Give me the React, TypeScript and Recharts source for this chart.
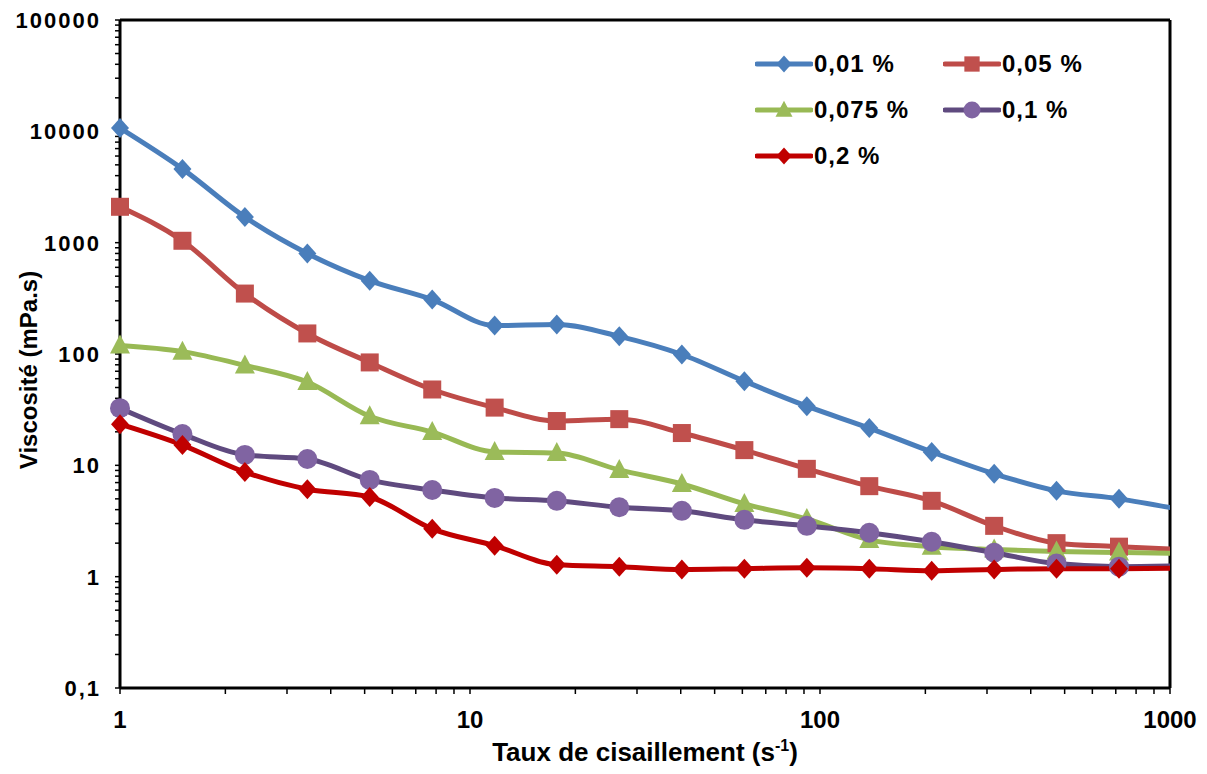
import {
  LineChart,
  Line,
  XAxis,
  YAxis,
  Legend,
  ReferenceLine,
} from "recharts";

// shear rate (s-1), log spaced; last point lies past 1000 and gets clipped
const shearRates = [
  1, 1.508, 2.274, 3.43, 5.17, 7.8, 11.76, 17.7, 26.7, 40.3, 60.8, 91.7, 138.3,
  208.5, 314.5, 474, 715, 1079,
];

const visc001 = [
  10700, 4600, 1700, 800, 456, 308, 180, 184, 144, 99, 57, 34, 21.6, 13.2, 8.4,
  5.9, 5.0, 4.0,
];
const visc005 = [
  2100, 1040, 349, 153, 84, 48, 33, 25, 26, 19.5, 13.7, 9.3, 6.5, 4.8, 2.86,
  2.0, 1.86, 1.75,
];
const visc0075 = [
  119, 105, 79, 56, 27.6, 19.9, 13.2, 12.9, 9.1, 6.8, 4.5, 3.3, 2.14, 1.86,
  1.75, 1.68, 1.65, 1.62,
];
const visc01 = [
  32.6, 19.1, 12.4, 11.4, 7.4, 6.0, 5.1, 4.8, 4.2, 3.9, 3.24, 2.86, 2.48, 2.06,
  1.64, 1.31, 1.23, 1.25,
];
const visc02 = [
  23.4, 15.2, 8.7, 6.1, 5.2, 2.69, 1.9, 1.28, 1.23, 1.16, 1.18, 1.2, 1.18,
  1.13, 1.16, 1.18, 1.18, 1.19,
];

const xTicks = [1, 10, 100, 1000];
const yTicks = [0.1, 1, 10, 100, 1000, 10000, 100000];

const series = [
  { key: "s1", name: "0,01 %", values: visc001, line: "#4A7EBB", fill: "#4A7EBB", shape: "diamond" },
  { key: "s2", name: "0,05 %", values: visc005, line: "#BE4B48", fill: "#C0504D", shape: "square" },
  { key: "s3", name: "0,075 %", values: visc0075, line: "#98B954", fill: "#9BBB59", shape: "triangle" },
  { key: "s4", name: "0,1 %", values: visc01, line: "#5F4A7F", fill: "#8064A2", shape: "circle" },
  { key: "s5", name: "0,2 %", values: visc02, line: "#C00000", fill: "#C00000", shape: "diamond" },
];

const rows = shearRates.map((x, i) => {
  const r: any = { x };
  series.forEach((s) => (r[s.key] = s.values[i]));
  return r;
});
const dotRows = rows.filter((r) => r.x <= 1000);

const minor = (ticks: number[]) =>
  ticks.slice(0, -1).flatMap((t) => [2, 3, 4, 5, 6, 7, 8, 9].map((m) => +(t * m).toPrecision(3)));
const xAllTicks = [...xTicks, ...minor(xTicks)].sort((a, b) => a - b);
const yAllTicks = [...yTicks, ...minor(yTicks)].sort((a, b) => a - b);

const FONT = "'Liberation Sans', Arial, sans-serif";

function Marker({ cx, cy, shape, fill, size = 1 }: any) {
  if (cx == null || cy == null) return null;
  const s = size;
  if (shape === "diamond")
    return <path d={`M${cx},${cy - 10 * s}L${cx + 9 * s},${cy}L${cx},${cy + 10 * s}L${cx - 9 * s},${cy}Z`} fill={fill} />;
  if (shape === "square")
    return <rect x={cx - 9 * s} y={cy - 9 * s} width={18 * s} height={18 * s} fill={fill} />;
  if (shape === "triangle")
    return <path d={`M${cx},${cy - 11 * s}L${cx + 10 * s},${cy + 8 * s}L${cx - 10 * s},${cy + 8 * s}Z`} fill={fill} />;
  return <circle cx={cx} cy={cy} r={10 * s} fill={fill} />;
}

function LegendBox() {
  return (
    <div
      style={{
        display: "grid",
        gridTemplateColumns: "188px 170px",
        gridAutoRows: "46px",
        fontFamily: FONT,
        fontWeight: "bold",
        fontSize: 24,
        letterSpacing: 1,
        color: "#000",
      }}
    >
      {series.map((s) => (
        <div key={s.key} style={{ display: "flex", alignItems: "center" }}>
          <svg width={58} height={24}>
            <line x1={2} y1={12} x2={56} y2={12} stroke={s.line} strokeWidth={5} strokeLinecap="round" />
            <Marker cx={29} cy={12} shape={s.shape} fill={s.fill} size={0.85} />
          </svg>
          <span style={{ marginLeft: 1 }}>{s.name}</span>
        </div>
      ))}
    </div>
  );
}

function YTick({ x, y, payload }: any) {
  const v = payload.value;
  if (!yTicks.includes(v)) return null;
  return (
    <text x={x} y={y} dy="0.36em" textAnchor="end" fontFamily={FONT} fontWeight="bold" fontSize={22} letterSpacing={2} fill="#000">
      {v === 0.1 ? "0,1" : String(v)}
    </text>
  );
}

function XTick({ x, y, payload }: any) {
  const v = payload.value;
  if (!xTicks.includes(v)) return null;
  return (
    <text x={x} y={y} dy="0.71em" textAnchor="middle" fontFamily={FONT} fontWeight="bold" fontSize={24} fill="#000">
      {String(v)}
    </text>
  );
}

export default function App() {
  return (
    <div style={{ position: "absolute", left: 0, top: 0, width: 1207, height: 774, background: "#fff" }}>
      <LineChart width={1207} height={774} data={rows} margin={{ top: 20, right: 37, bottom: 0, left: 0 }}>
        <XAxis
          xAxisId="main"
          dataKey="x"
          type="number"
          scale="log"
          domain={[1, 1000]}
          allowDataOverflow
          ticks={xAllTicks}
          interval={0}
          tick={<XTick />}
          tickSize={6}
          tickMargin={17}
          tickLine={{ stroke: "#000", strokeWidth: 1.5 }}
          axisLine={{ stroke: "#000", strokeWidth: 3 }}
          height={86}
          label={(props: any) => {
            const vb = props.viewBox;
            return (
              <text
                x={vb.x + vb.width / 2}
                y={vb.y + 73}
                textAnchor="middle"
                fontFamily={FONT}
                fontWeight="bold"
                fontSize={26}
                fill="#000"
              >
                Taux de cisaillement (s
                <tspan fontSize={16} dy={-10}>-1</tspan>
                <tspan dy={10}>)</tspan>
              </text>
            );
          }}
        />
        <XAxis xAxisId="dots" dataKey="x" type="number" scale="log" domain={[1, 1000]} hide height={0} />
        <YAxis
          type="number"
          scale="log"
          domain={[0.1, 100000]}
          ticks={yAllTicks}
          interval={0}
          tick={<YTick />}
          tickSize={5}
          tickMargin={14}
          tickLine={{ stroke: "#000", strokeWidth: 1.5 }}
          axisLine={{ stroke: "#000", strokeWidth: 3 }}
          width={120}
          label={(props: any) => {
            const vb = props.viewBox;
            const cx = vb.x + 28;
            const cy = vb.y + vb.height / 2 + 16;
            return (
              <text
                x={cx}
                y={cy}
                transform={`rotate(-90 ${cx} ${cy})`}
                textAnchor="middle"
                dominantBaseline="central"
                fontFamily={FONT}
                fontWeight="bold"
                fontSize={24}
                fill="#000"
              >
                Viscosité (mPa.s)
              </text>
            );
          }}
        />
        <ReferenceLine xAxisId="main" x={1000} stroke="#000" strokeWidth={3} />
        <ReferenceLine xAxisId="main" y={100000} stroke="#000" strokeWidth={3} />

        {series.flatMap((s) => [
          <Line
            key={s.key + "-line"}
            xAxisId="main"
            type="monotone"
            dataKey={s.key}
            name={s.name}
            stroke={s.line}
            strokeWidth={5}
            dot={false}
            activeDot={false}
            isAnimationActive={false}
          />,
          <Line
            key={s.key + "-dots"}
            xAxisId="dots"
            data={dotRows}
            type="monotone"
            dataKey={s.key}
            stroke="none"
            legendType="none"
            dot={(p: any) => <Marker key={`${s.key}-${p.index}`} cx={p.cx} cy={p.cy} shape={s.shape} fill={s.fill} />}
            activeDot={false}
            isAnimationActive={false}
          />,
        ])}

        <Legend
          layout="vertical"
          align="center"
          verticalAlign="middle"
          wrapperStyle={{ left: 755, top: 41, width: 380 }}
          content={() => <LegendBox />}
        />
      </LineChart>
    </div>
  );
}
